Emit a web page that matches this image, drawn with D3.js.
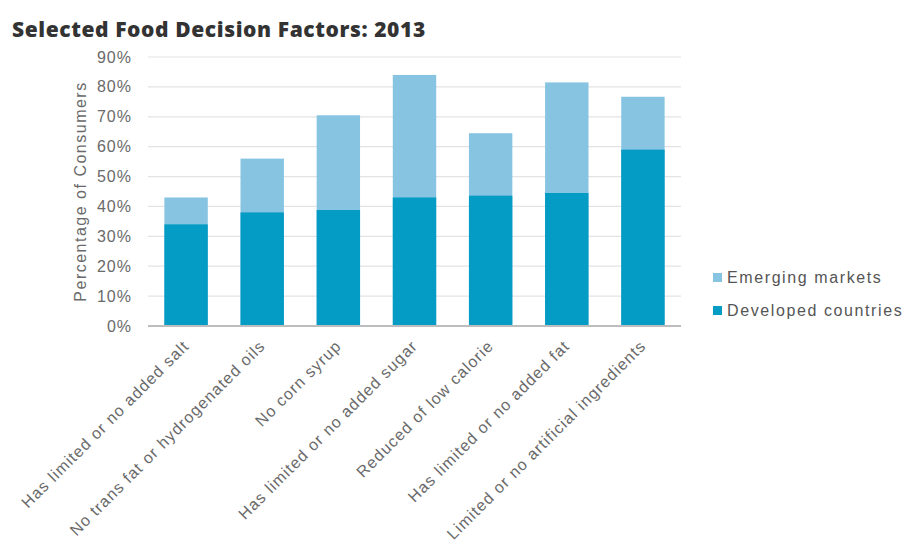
<!DOCTYPE html>
<html>
<head>
<meta charset="utf-8">
<script src="https://cdn.jsdelivr.net/npm/d3@7"></script>
<style>
  body { margin: 0; background: #fff; }
  .lbl { font-family: "Liberation Sans", Arial, sans-serif; }
</style>
</head>
<body>
<svg id="chart"></svg>
<script>
// data
const categories = [
  "Has limited or no added salt",
  "No trans fat or hydrogenated oils",
  "No corn syrup",
  "Has limited or no added sugar",
  "Reduced of low calorie",
  "Has limited or no added fat",
  "Limited or no artificial ingredients"
];
const emerging = [43, 56, 70.5, 84, 64.5, 81.5, 76.7];
const developed = [34, 38, 38.8, 43, 43.6, 44.5, 59];
const yTicks = [0, 10, 20, 30, 40, 50, 60, 70, 80, 90];

const width = 907, height = 546;
const margin = {top: 57, right: 226, bottom: 220, left: 148};
const innerW = width - margin.left - margin.right;
const innerH = height - margin.top - margin.bottom;

const svg = d3.select("#chart")
  .attr("width", width)
  .attr("height", height);

// title
svg.append("text")
  .attr("x", 12).attr("y", 37)
  .attr("fill", "#333")
  .style("font-family", "'Open Sans', sans-serif")
  .style("font-weight", "800")
  .style("font-size", "21px")
  .style("letter-spacing", "0.6px")
  .text("Selected Food Decision Factors: 2013");

const x = d3.scaleBand()
  .domain(categories)
  .range([margin.left, margin.left + innerW])
  .paddingInner(0.43)
  .paddingOuter(0.215);

const y = d3.scaleLinear()
  .domain([0, 90])
  .range([margin.top + innerH, margin.top]);

// gridlines
svg.append("g")
  .selectAll("line")
  .data(yTicks.slice(1))
  .join("line")
  .attr("x1", margin.left).attr("x2", margin.left + innerW)
  .attr("y1", d => y(d)).attr("y2", d => y(d))
  .attr("stroke", "#e3e3e3")
  .attr("stroke-width", 1.2);

// tick labels
svg.append("g")
  .selectAll("text")
  .data(yTicks)
  .join("text")
  .attr("class", "lbl")
  .attr("x", 132)
  .attr("y", d => y(d))
  .attr("dy", "0.35em")
  .attr("text-anchor", "end")
  .attr("fill", "#6a6a6a")
  .style("font-size", "16px")
  .style("letter-spacing", "1px")
  .text(d => d + "%");

// y label
svg.append("text")
  .attr("class", "lbl")
  .attr("transform", `translate(86, ${y(45)}) rotate(-90)`)
  .attr("text-anchor", "middle")
  .attr("fill", "#6a6a6a")
  .style("font-size", "16px")
  .style("letter-spacing", "1.5px")
  .text("Percentage of Consumers");

// emerging markets (behind)
svg.append("g")
  .selectAll("rect")
  .data(emerging)
  .join("rect")
  .attr("x", (d, i) => x(categories[i]))
  .attr("width", x.bandwidth())
  .attr("y", d => y(d))
  .attr("height", d => y(0) - y(d))
  .attr("fill", "#86c4e2");

// developed countries
svg.append("g")
  .selectAll("rect")
  .data(developed)
  .join("rect")
  .attr("x", (d, i) => x(categories[i]))
  .attr("width", x.bandwidth())
  .attr("y", d => y(d))
  .attr("height", d => y(0) - y(d))
  .attr("fill", "#049bc4");

// baseline
svg.append("line")
  .attr("x1", margin.left).attr("x2", margin.left + innerW)
  .attr("y1", y(0)).attr("y2", y(0))
  .attr("stroke", "#bdbdbd")
  .attr("stroke-width", 2);

// category labels
svg.append("g")
  .selectAll("text")
  .data(categories)
  .join("text")
  .attr("class", "lbl")
  .attr("transform", d => `translate(${x(d) + x.bandwidth() / 2 + 4}, ${y(0) + 21}) rotate(-45)`)
  .attr("text-anchor", "end")
  .attr("fill", "#6a6a6a")
  .style("font-size", "16px")
  .style("letter-spacing", "1.1px")
  .text(d => d);

// legend
const legend = [
  {name: "Emerging markets", color: "#86c4e2"},
  {name: "Developed countries", color: "#049bc4"}
];
const lg = svg.append("g")
  .selectAll("g")
  .data(legend)
  .join("g")
  .attr("transform", (d, i) => `translate(713, ${277 + i * 33})`);
lg.append("rect")
  .attr("x", 0).attr("y", -4)
  .attr("width", 9).attr("height", 9)
  .attr("fill", d => d.color);
lg.append("text")
  .attr("class", "lbl")
  .attr("x", 14).attr("y", 0)
  .attr("dy", "0.35em")
  .attr("fill", "#555")
  .style("font-size", "16px")
  .style("letter-spacing", "1.6px")
  .text(d => d.name);
</script>
</body>
</html>
